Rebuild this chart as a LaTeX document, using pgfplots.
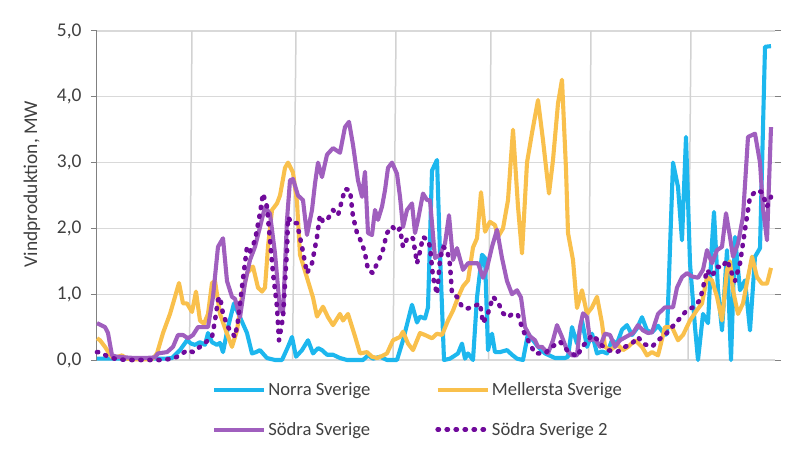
\documentclass[border=0pt]{standalone}
\usepackage{pgfplots}
\pgfplotsset{compat=1.18}
\usepackage{fontspec}
\setmainfont{Carlito}
\definecolor{norra}{RGB}{29,183,238}
\definecolor{mell}{RGB}{249,192,76}
\definecolor{sodra}{RGB}{160,95,190}
\definecolor{sodra2}{RGB}{112,10,155}
\definecolor{gridc}{RGB}{217,217,217}
\definecolor{vlc}{RGB}{210,210,210}
\definecolor{txt}{RGB}{64,64,64}
\begin{document}
\begin{tikzpicture}
\begin{axis}[
  scale only axis, width=678bp, height=329bp,
  xmin=97, xmax=775, ymin=0, ymax=5,
  axis line style={draw=none},
  xtick=\empty,
  ytick={0,1,2,3,4,5},
  ymajorgrids, major grid style={gridc, line width=1.2bp},
  tick align=outside, major tick length=6bp,
  ytick style={draw=gray, line width=1bp},
  yticklabel style={xshift=-6bp, /pgf/number format/.cd, fixed, fixed zerofill, precision=1, use comma, assume math mode=true},
  tick label style={font=\fontsize{19.5}{23}\selectfont, text=txt},
  ylabel={Vindproduktion, MW},
  ylabel style={at={(axis description cs:-0.0958,0.535)}, anchor=center, font=\fontsize{19.5}{23}\selectfont, text=txt},
  clip=false,
  legend columns=2,
  legend cell align=left,
  legend style={at={(axis description cs:0.1696,-0.063)}, anchor=north west, draw=none, fill=none,
    font=\fontsize{18.7}{22}\selectfont, text=txt, inner sep=0pt, row sep=21bp,
    /tikz/every even column/.append style={column sep=63bp}},
  legend image code/.code={\draw[#1] (0bp,0bp) -- (50bp,0bp);},
]
\draw[vlc, line width=1.5bp] (axis cs:189.5,0) -- (axis cs:192,5);
\draw[vlc, line width=1.5bp] (axis cs:292.5,0) -- (axis cs:296,5);
\draw[vlc, line width=1.5bp] (axis cs:393,0) -- (axis cs:396,5);
\draw[vlc, line width=1.5bp] (axis cs:488.5,0) -- (axis cs:491,5);
\draw[vlc, line width=1.5bp] (axis cs:588.5,0) -- (axis cs:591,5);
\draw[vlc, line width=1.5bp] (axis cs:688,0) -- (axis cs:691,5);
\draw[gray, line width=1bp] (axis cs:97,0) -- (axis cs:97,5);

\addplot[norra, line width=4.1bp, line join=round] coordinates {
(97,0.02) (110,0.02) (130,0.02) (150,0.02) (165,0.02) (172,0.03) (180,0.15) (187,0.3) (191,0.25) (195,0.23)
(200,0.27) (205,0.23) (208,0.41) (212,0.27) (217,0.23) (220,0.26) (223,0.12) (228,0.5) (234,0.86) (240,0.65)
(247,0.41) (252,0.1) (256,0.12) (260,0.15) (264,0.08) (267,0.03) (275,0.0) (282,0.0) (288,0.2) (292,0.35)
(296,0.05) (302,0.15) (308,0.3) (313,0.1) (318,0.18) (322,0.15) (327,0.08) (333,0.08) (340,0.03) (347,0.0)
(355,0.0) (363,0.0) (368,0.07) (373,0.02) (380,0.05) (387,0.0) (397,0.0) (403,0.3) (408,0.6) (412,0.84)
(417,0.57) (420,0.66) (425,0.63) (428,0.8) (432,2.88) (437,3.04) (440,1.62) (444,0.0) (450,0.02) (458,0.1)
(462,0.25) (465,0.02) (468,0.1) (473,0.0) (477,0.95) (482,1.6) (485,1.55) (488,0.15) (492,0.4) (495,0.12)
(500,0.12) (507,0.15) (512,0.08) (517,0.02) (523,0.0) (528,0.4) (533,0.3) (538,0.2) (545,0.1) (555,0.03)
(565,0.03) (568,0.05) (572,0.5) (577,0.25) (582,0.6) (587,0.2) (592,0.4) (597,0.1) (602,0.13) (607,0.1)
(612,0.3) (617,0.25) (622,0.46) (627,0.53) (632,0.38) (637,0.48) (642,0.65) (647,0.45) (652,0.42) (658,0.52)
(665,0.38) (667,0.4) (673,3.0) (678,2.63) (682,1.82) (686,3.39) (690,1.47) (695,0.5) (698,0.0) (703,0.7)
(708,0.56) (712,1.78) (714,2.25) (718,1.06) (722,0.45) (727,1.67) (731,0.0) (735,1.87) (740,1.06) (745,1.21)
(750,0.45) (755,1.57) (760,1.7) (765,4.76) (771,4.77)
};
\addlegendentry{Norra Sverige}

\addplot[mell, line width=4.1bp, line join=round] coordinates {
(97,0.33) (100,0.3) (105,0.2) (110,0.08) (113,0.03) (118,0.05) (122,0.07) (127,0.02) (133,0.01) (140,0.01)
(148,0.01) (153,0.02) (157,0.1) (163,0.41) (170,0.7) (175,0.96) (179,1.17) (183,0.86) (187,0.86) (192,0.73)
(196,1.04) (200,0.6) (204,0.55) (208,0.7) (212,1.17) (215,1.2) (220,0.7) (227,0.4) (232,0.2) (237,0.45)
(242,0.96) (247,1.32) (253,1.42) (258,1.1) (262,1.04) (265,1.1) (268,1.72) (272,2.28) (277,2.38) (280,2.5)
(285,2.92) (288,3.0) (293,2.85) (297,2.4) (300,1.6) (304,1.4) (308,1.2) (313,0.95) (317,0.66) (323,0.81)
(328,0.65) (333,0.53) (340,0.7) (343,0.6) (348,0.7) (355,0.36) (360,0.1) (367,0.12) (372,0.05) (377,0.03)
(382,0.06) (387,0.1) (393,0.3) (400,0.35) (403,0.43) (408,0.25) (413,0.15) (420,0.41) (425,0.38) (432,0.33)
(437,0.4) (442,0.38) (448,0.6) (453,0.75) (458,0.95) (463,1.12) (468,1.21) (473,1.71) (477,1.85) (481,2.55)
(485,1.95) (490,2.1) (495,2.05) (498,1.87) (503,2.0) (508,2.43) (513,3.5) (518,2.33) (522,1.62) (527,3.0)
(532,3.45) (538,3.95) (543,3.34) (549,2.53) (553,3.04) (558,3.9) (562,4.26) (566,2.9) (568,1.93) (573,1.52)
(577,0.79) (582,1.06) (587,0.7) (592,0.8) (597,0.96) (602,0.56) (605,0.2) (610,0.15) (618,0.23) (623,0.15)
(628,0.2) (635,0.3) (642,0.2) (647,0.07) (652,0.12) (658,0.07) (665,0.5) (672,0.5) (678,0.3) (683,0.38)
(690,0.6) (697,0.76) (702,0.86) (707,1.26) (712,1.21) (717,0.96) (722,0.6) (727,1.37) (730,1.5) (733,1.06)
(738,0.7) (743,0.86) (748,1.26) (752,1.57) (757,1.26) (762,1.16) (767,1.16) (771,1.4)
};
\addlegendentry{Mellersta Sverige}

\addplot[sodra, line width=4.1bp, line join=round] coordinates {
(97,0.56) (105,0.5) (108,0.41) (112,0.07) (117,0.05) (125,0.04) (135,0.03) (145,0.03) (155,0.04) (158,0.1)
(167,0.12) (173,0.2) (178,0.38) (183,0.38) (188,0.33) (193,0.38) (198,0.5) (203,0.5) (208,0.5) (213,0.96)
(218,1.72) (223,1.85) (227,1.2) (232,0.96) (235,0.93) (240,0.65) (245,1.17) (250,1.52) (255,1.72) (260,2.02)
(265,2.33) (270,2.22) (275,1.62) (280,0.76) (283,0.72) (287,2.13) (290,2.73) (293,2.75) (298,2.5) (303,2.43)
(307,1.9) (312,2.28) (315,2.68) (318,3.0) (322,2.78) (327,3.12) (333,3.22) (340,3.15) (345,3.54) (349,3.62)
(353,3.27) (358,2.73) (362,2.48) (365,2.86) (368,1.93) (372,1.9) (375,2.28) (378,2.13) (382,2.33) (385,2.58)
(388,2.92) (392,3.0) (397,2.83) (400,2.48) (403,2.02) (407,2.28) (412,2.38) (415,1.93) (418,2.13) (423,2.53)
(427,2.43) (430,2.43) (435,1.55) (440,1.6) (445,1.77) (449,2.2) (453,1.52) (457,1.7) (463,1.37) (468,1.47)
(478,1.47) (483,1.25) (487,1.4) (492,1.72) (497,1.98) (502,1.55) (507,1.2) (512,1.0) (517,1.06) (521,0.95)
(525,0.5) (530,0.36) (535,0.3) (538,0.2) (542,0.2) (548,0.1) (553,0.3) (557,0.53) (562,0.35) (567,0.15)
(572,0.07) (577,0.07) (580,0.5) (583,0.71) (587,0.65) (590,0.3) (595,0.32) (600,0.2) (605,0.4) (610,0.38)
(615,0.2) (620,0.3) (627,0.36) (633,0.41) (638,0.53) (643,0.45) (648,0.41) (652,0.42) (658,0.7) (665,0.8)
(673,0.8) (677,1.1) (682,1.26) (687,1.32) (692,1.27) (698,1.25) (703,1.37) (707,1.67) (712,1.47) (717,1.67)
(722,1.72) (726,2.23) (730,1.87) (733,1.57) (738,1.77) (743,2.18) (748,3.39) (755,3.44) (760,3.0) (763,2.3)
(767,1.82) (771,3.54)
};
\addlegendentry{Södra Sverige}

\addplot[sodra2, line width=4.6bp, line cap=round, line join=round, dash pattern=on 1.2bp off 7.8bp] coordinates {
(97,0.12) (100,0.12) (108,0.05) (117,0.01) (130,0.0) (145,0.0) (160,0.0) (173,0.02) (180,0.07) (187,0.15)
(193,0.12) (200,0.2) (205,0.26) (208,0.3) (212,0.35) (215,0.6) (218,0.91) (220,0.96) (223,0.7) (228,0.5)
(235,0.35) (238,0.6) (242,1.11) (247,1.72) (250,1.65) (255,1.82) (260,2.23) (263,2.53) (267,2.33) (270,1.82)
(273,1.32) (277,0.81) (279,0.3) (283,0.65) (287,1.67) (288,2.17) (292,2.08) (297,2.08) (302,1.72) (307,1.32)
(312,1.47) (317,1.87) (320,2.2) (323,2.1) (328,2.15) (333,2.28) (338,2.2) (342,2.43) (345,2.6) (350,2.58)
(353,2.18) (357,1.93) (362,1.77) (365,1.62) (368,1.37) (373,1.32) (377,1.47) (382,1.62) (387,1.93) (392,2.03)
(397,1.95) (400,2.0) (403,1.72) (408,1.87) (413,1.85) (417,1.47) (420,1.65) (423,1.87) (428,1.82) (430,1.72)
(433,1.26) (437,1.0) (440,1.52) (443,1.72) (447,1.68) (450,1.45) (452,1.01) (457,0.96) (462,0.81) (467,0.78)
(473,0.81) (480,0.86) (483,0.56) (488,0.71) (493,0.96) (498,0.88) (503,0.71) (508,0.65) (513,0.71) (518,0.68)
(523,0.45) (528,0.3) (535,0.1) (545,0.1) (552,0.2) (560,0.28) (567,0.15) (577,0.05) (582,0.2) (587,0.28)
(592,0.38) (598,0.3) (602,0.22) (608,0.15) (617,0.12) (625,0.2) (632,0.25) (638,0.35) (643,0.25) (648,0.22)
(652,0.2) (658,0.3) (665,0.38) (672,0.5) (678,0.6) (687,0.76) (693,0.8) (700,0.91) (703,1.1) (707,1.37)
(712,1.27) (717,1.42) (722,1.4) (727,1.52) (731,1.35) (735,1.2) (740,1.47) (745,1.98) (750,2.48) (757,2.58)
(762,2.55) (767,2.33) (771,2.48)
};
\addlegendentry{Södra Sverige 2}
\end{axis}
\pgfresetboundingbox
\path (-97bp,-95bp) rectangle (715bp,360bp);
\end{tikzpicture}
\end{document}
